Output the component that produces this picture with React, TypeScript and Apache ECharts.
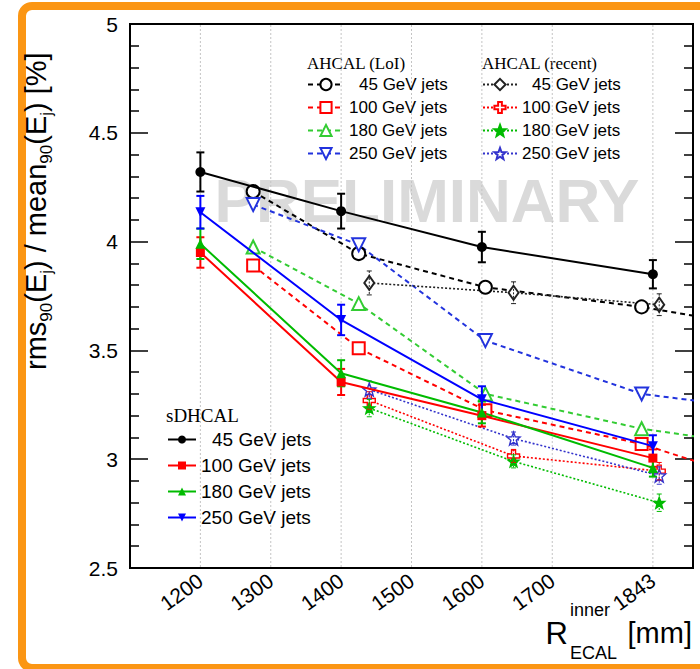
import React, { useEffect, useRef } from "react";
import * as echarts from "echarts";

const FONT = "'Liberation Sans', Arial, Helvetica, sans-serif";
const SERIF = "'Liberation Serif', 'Times New Roman', serif";

// ---- axes ----
const xTickValues = [1200, 1300, 1400, 1500, 1600, 1700, 1843];
const yMin = 2.5;
const yMax = 5;

// ---- sDHCAL (solid, with error bars) ----
const xSD = [1200, 1400, 1600, 1843];
const sd45 = [4.32, 4.14, 3.975, 3.85];
const sd100 = [3.95, 3.355, 3.2, 3.005];
const sd180 = [3.99, 3.395, 3.215, 2.96];
const sd250 = [4.135, 3.64, 3.275, 3.06];
const sd45Err = [0.09, 0.08, 0.07, 0.065];
const sd100Err = [0.07, 0.06, 0.05, 0.04];
const sd180Err = [0.07, 0.06, 0.05, 0.04];
const sd250Err = [0.075, 0.07, 0.06, 0.05];

// ---- AHCAL (LoI) (dashed, open markers) ----
const xLoI = [1275, 1425, 1605, 1827, 2000];
const loi45 = [4.23, 3.945, 3.79, 3.7, 3.605];
const loi100 = [3.89, 3.51, 3.225, 3.07, 2.89];
const loi180 = [3.975, 3.715, 3.3, 3.14, 3.06];
const loi250 = [4.17, 3.985, 3.545, 3.3, 3.23];

// ---- AHCAL (recent) (dotted) ----
const xRec = [1440, 1645, 1852];
const rec45 = [3.81, 3.765, 3.71];
const rec100 = [3.27, 3.015, 2.945];
const rec180 = [3.235, 2.99, 2.8];
const rec250 = [3.32, 3.095, 2.925];
const rec45Err = [0.055, 0.05, 0.05];
const rec100Err = [0.04, 0.03, 0.04];
const rec180Err = [0.04, 0.03, 0.04];
const rec250Err = [0.04, 0.03, 0.04];

const labels: Record<string, string> = {
  loi45: "45 GeV jets", loi100: "100 GeV jets", loi180: "180 GeV jets", loi250: "250 GeV jets",
  rec45: "45 GeV jets", rec100: "100 GeV jets", rec180: "180 GeV jets", rec250: "250 GeV jets",
  sd45: "45 GeV jets", sd100: "100 GeV jets", sd180: "180 GeV jets", sd250: "250 GeV jets",
};

const BLACK = "#000000";
const RED = "#ff0000";
const GREEN = "#00bb00";
const BLUE = "#0000ff";
const LGREEN = "#33cc33";
const LBLUE = "#2233dd";
const RBLUE = "#3333cc";
const ORANGE = "#fb9614";

const STAR = "path://M0,-1L0.247,-0.34L0.951,-0.309L0.399,0.13L0.588,0.809L0,0.42L-0.588,0.809L-0.399,0.13L-0.951,-0.309L-0.247,-0.34Z";
const CROSS = "path://M-1,-3L1,-3L1,-1L3,-1L3,1L1,1L1,3L-1,3L-1,1L-3,1L-3,-1L-1,-1Z";

function pts(xs: number[], ys: number[]) {
  return xs.map((x, i) => [x, ys[i]]);
}

function errSeries(key: string, xs: number[], ys: number[], es: number[], color: string, lw: number, cap: number, dash?: number[]) {
  return {
    type: "custom",
    name: "err_" + key,
    silent: true,
    z: 4,
    clip: true,
    data: xs.map((x, i) => [x, ys[i], es[i]]),
    encode: { x: 0, y: 1 },
    renderItem: (_p: any, api: any) => {
      const x = api.value(0), y = api.value(1), e = api.value(2);
      const t = api.coord([x, y + e]);
      const b = api.coord([x, y - e]);
      const st: any = { stroke: color, lineWidth: lw };
      if (dash) st.lineDash = dash;
      return {
        type: "group",
        children: [
          { type: "line", shape: { x1: t[0], y1: t[1], x2: b[0], y2: b[1] }, style: st },
          { type: "line", shape: { x1: t[0] - cap, y1: t[1], x2: t[0] + cap, y2: t[1] }, style: { stroke: color, lineWidth: lw } },
          { type: "line", shape: { x1: b[0] - cap, y1: b[1], x2: b[0] + cap, y2: b[1] }, style: { stroke: color, lineWidth: lw } },
        ],
      };
    },
  };
}

function sdLine(name: string, ys: number[], color: string, symbol: string, size: number, rot = 0) {
  return {
    type: "line", name, data: pts(xSD, ys), z: 5,
    symbol, symbolSize: size, symbolRotate: rot,
    lineStyle: { color, width: 2, type: "solid" },
    itemStyle: { color, borderWidth: 0 },
  };
}

function loiLine(name: string, ys: number[], color: string, symbol: string, size: number, rot = 0) {
  return {
    type: "line", name, data: pts(xLoI, ys), z: 3, clip: true,
    symbol, symbolSize: size, symbolRotate: rot,
    lineStyle: { color, width: 2, type: [5, 4] },
    itemStyle: { color, borderWidth: 1.5 },
  };
}

function recLine(name: string, ys: number[], color: string, symbol: string, size: any, fill: string) {
  return {
    type: "line", name, data: pts(xRec, ys), z: 3,
    symbol, symbolSize: size,
    lineStyle: { color, width: 1.6, type: [2, 2] },
    itemStyle: { color: fill, borderColor: color, borderWidth: 1.4 },
  };
}

const padRich = (fs: number, pad: number) => ({ p: { fontSize: fs, fontFamily: FONT, color: "#000", padding: [0, 0, 0, pad] } });
const fmt = (name: string) => (name.endsWith("45") ? "{p|" + labels[name] + "}" : labels[name]);

export default function App() {
  const ref = useRef<HTMLDivElement>(null);
  useEffect(() => {
    if (!ref.current) return;
    const chart = echarts.init(ref.current, undefined, { renderer: "svg" });
    const yAxisBase = {
      type: "value", min: yMin, max: yMax, interval: 0.5,
      axisLine: { show: true, lineStyle: { color: "#000", width: 2 } },
      axisTick: { show: true, inside: true, length: 18, lineStyle: { color: "#000", width: 1.5 } },
      minorTick: { show: true, splitNumber: 5, length: 9, lineStyle: { color: "#000", width: 1.5 } },
      splitLine: { show: false },
    };
    const legendBase = { orient: "vertical", padding: 0, selectedMode: false, formatter: fmt };
    const option: any = {
      animation: false,
      backgroundColor: "#fff",
      grid: { left: 130, right: 7, top: 24, bottom: 101, show: true, borderColor: "#000", borderWidth: 2, backgroundColor: "transparent" },
      xAxis: {
        type: "value", min: 1100, max: 1900,
        axisLine: { show: true, lineStyle: { color: "#000", width: 2 } },
        axisTick: { show: false },
        splitLine: { show: false },
        axisLabel: { customValues: xTickValues, formatter: (v: number) => String(v), rotate: 36, fontSize: 21, fontFamily: FONT, color: "#000", margin: 10 },
      },
      yAxis: [
        { ...yAxisBase, position: "left", axisLabel: { fontSize: 21, fontFamily: FONT, color: "#000", margin: 12 } },
        { ...yAxisBase, position: "right", axisLabel: { show: false } },
      ],
      legend: [
        {
          ...legendBase, left: 307, top: 76, itemWidth: 36, itemHeight: 14, itemGap: 6,
          data: ["loi45", "loi100", "loi180", "loi250"],
          textStyle: { fontSize: 17, fontFamily: FONT, color: "#000", rich: padRich(17, 10) },
        },
        {
          ...legendBase, left: 482, top: 76, itemWidth: 34, itemHeight: 14, itemGap: 6,
          data: ["rec45", "rec100", "rec180", "rec250"],
          textStyle: { fontSize: 17, fontFamily: FONT, color: "#000", rich: padRich(17, 10) },
        },
        {
          ...legendBase, left: 167, top: 430, itemWidth: 28, itemHeight: 10, itemGap: 7,
          data: ["sd45", "sd100", "sd180", "sd250"],
          textStyle: { fontSize: 19, fontFamily: FONT, color: "#000", rich: padRich(19, 11) },
        },
      ],
      graphic: [
        { type: "rect", z: -10, silent: true, shape: { x: 22, y: 6, width: 720, height: 662, r: 10 }, style: { fill: "none", stroke: ORANGE, lineWidth: 8 } },
        { type: "text", z: -5, silent: true, x: 427, y: 200, style: { text: "PRELIMINARY", font: "bold 62px " + FONT, fill: "#dadada", align: "center", verticalAlign: "middle" } },
        { type: "text", silent: true, x: 307, y: 63, style: { text: "AHCAL (LoI)", fontSize: 17, fontFamily: SERIF, fill: "#000", align: "left", verticalAlign: "middle" } },
        { type: "text", silent: true, x: 482, y: 63, style: { text: "AHCAL (recent)", fontSize: 17, fontFamily: SERIF, fill: "#000", align: "left", verticalAlign: "middle" } },
        { type: "text", silent: true, x: 166, y: 415, style: { text: "sDHCAL", fontSize: 19, fontFamily: SERIF, fill: "#000", align: "left", verticalAlign: "middle" } },
        {
          type: "text", silent: true, x: 36, y: 370, rotation: Math.PI / 2,
          style: {
            text: "{m|rms}{s|90}{m|(E}{s|j}{m|) / mean}{s|90}{m|(E}{s|j}{m|) [%]}",
            align: "left", verticalAlign: "middle", fill: "#000",
            rich: {
              m: { fontSize: 29, fontFamily: FONT, color: "#000", lineHeight: 38, verticalAlign: "middle" },
              s: { fontSize: 17, fontFamily: FONT, color: "#000", lineHeight: 17, verticalAlign: "bottom" },
            },
          },
        },
        { type: "text", silent: true, x: 568, y: 633, style: { text: "R", fontSize: 31, fontFamily: FONT, fill: "#000", align: "right", verticalAlign: "middle" } },
        { type: "text", silent: true, x: 570, y: 610, style: { text: "inner", fontSize: 18, fontFamily: FONT, fill: "#000", align: "left", verticalAlign: "middle" } },
        { type: "text", silent: true, x: 570, y: 653, style: { text: "ECAL", fontSize: 18, fontFamily: FONT, fill: "#000", align: "left", verticalAlign: "middle" } },
        { type: "text", silent: true, x: 692, y: 633, style: { text: "[mm]", fontSize: 29, fontFamily: FONT, fill: "#000", align: "right", verticalAlign: "middle" } },
      ],
      series: [
        {
          type: "custom", name: "grid", silent: true, z: 1,
          data: xTickValues.map((v) => [v, yMin]),
          encode: { x: 0, y: 1 },
          renderItem: (_p: any, api: any) => {
            const v = api.value(0);
            const a = api.coord([v, yMax]);
            const b = api.coord([v, yMin]);
            return { type: "line", shape: { x1: a[0], y1: a[1] + 1, x2: b[0], y2: b[1] - 1 }, style: { stroke: "#c4c4c4", lineWidth: 1, lineDash: [2, 2] } };
          },
        },
        loiLine("loi45", loi45, BLACK, "emptyCircle", 13),
        loiLine("loi100", loi100, RED, "emptyRect", 12),
        loiLine("loi180", loi180, LGREEN, "emptyTriangle", 13),
        loiLine("loi250", loi250, LBLUE, "emptyTriangle", 13, 180),
        {
          type: "line", name: "rec45", data: pts(xRec, rec45), z: 3,
          symbol: "emptyDiamond", symbolSize: [10, 14],
          lineStyle: { color: "#222", width: 1.6, type: [2, 2] },
          itemStyle: { color: "#222", borderWidth: 1.4 },
        },
        recLine("rec100", rec100, RED, CROSS, 12, "#fff"),
        recLine("rec180", rec180, GREEN, STAR, 11, GREEN),
        recLine("rec250", rec250, RBLUE, STAR, 13, "#fff"),
        errSeries("rec45", xRec, rec45, rec45Err, "#222", 1, 2.5, [2, 1.5]),
        errSeries("rec100", xRec, rec100, rec100Err, RED, 1, 2.5, [2, 1.5]),
        errSeries("rec180", xRec, rec180, rec180Err, GREEN, 1, 2.5, [2, 1.5]),
        errSeries("rec250", xRec, rec250, rec250Err, RBLUE, 1, 2.5, [2, 1.5]),
        sdLine("sd45", sd45, BLACK, "circle", 10),
        sdLine("sd100", sd100, RED, "rect", 9),
        sdLine("sd180", sd180, GREEN, "triangle", 10),
        sdLine("sd250", sd250, BLUE, "triangle", 10, 180),
        errSeries("sd45", xSD, sd45, sd45Err, BLACK, 2, 4),
        errSeries("sd100", xSD, sd100, sd100Err, RED, 2, 4),
        errSeries("sd180", xSD, sd180, sd180Err, GREEN, 2, 4),
        errSeries("sd250", xSD, sd250, sd250Err, BLUE, 2, 4),
      ],
    };
    chart.setOption(option);
    return () => chart.dispose();
  }, []);
  return <div ref={ref} style={{ position: "fixed", left: 0, top: 0, width: 700, height: 669 }} />;
}
